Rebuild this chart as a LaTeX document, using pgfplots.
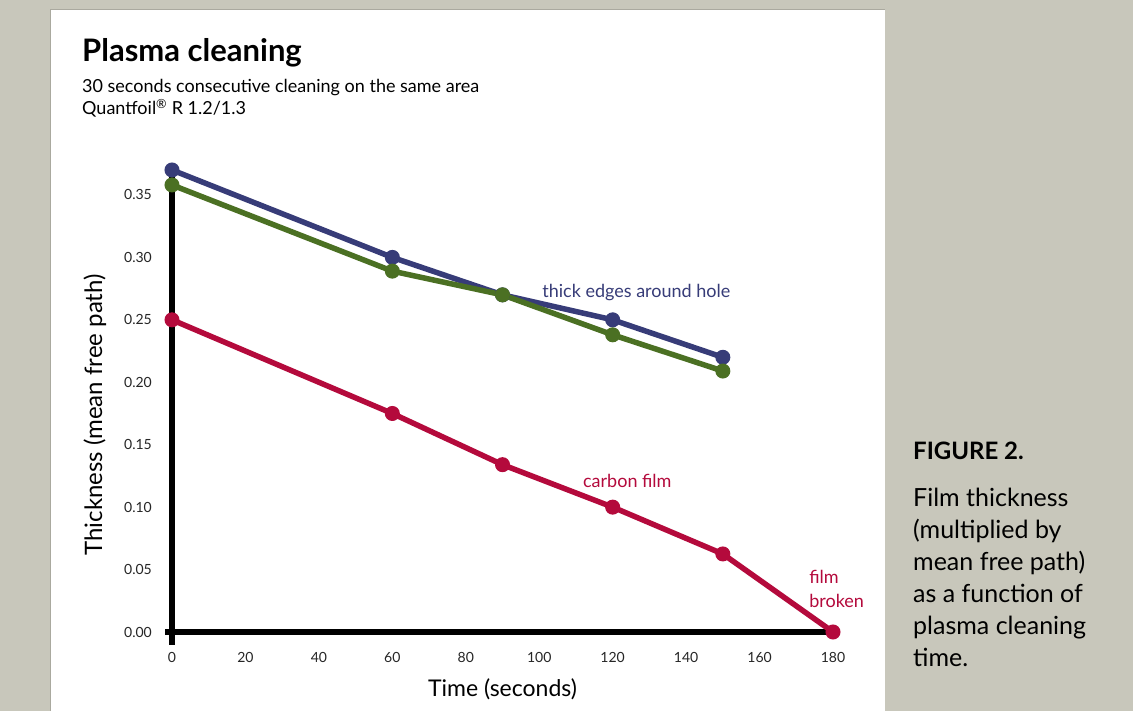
\documentclass[border=0pt]{standalone}
\usepackage{pgfplots}
\pgfplotsset{compat=1.18}
\usepackage{fontspec}
\setmainfont{Lato}
\definecolor{bg}{RGB}{200,199,187}
\definecolor{navy}{RGB}{55,60,120}
\definecolor{olive}{RGB}{75,112,35}
\definecolor{crimson}{RGB}{180,10,60}

\newcommand{\fs}[1]{\fontsize{#1}{#1}\selectfont}

\begin{document}
\begin{tikzpicture}[x=1pt,y=1pt]
\useasboundingbox (0,0) rectangle (1133,711);
% background and white panel
\fill[bg] (0,0) rectangle (1133,711);
\fill[white] (50,0) rectangle (885,701);
\draw[bg!85!black, line width=1pt] (50,0) -- (50,701) -- (885,701);

% titles
\node[anchor=base west, inner sep=0pt] at (82,649) {\fs{31}\bfseries Plasma cleaning};
\node[anchor=base west, inner sep=0pt] at (82,618) {\fs{18}30 seconds consecutive cleaning on the same area};
\node[anchor=base west, inner sep=0pt] at (82,596) {\fs{18}Quantfoil\textsuperscript{®} R 1.2/1.3};

% caption on the right
\node[anchor=base west, inner sep=0pt] at (913,251) {\fs{24}\bfseries FIGURE 2.};
\foreach \t [count=\i from 0] in {{Film thickness},{(multiplied by},{mean free path)},{as a function of},{plasma cleaning},{time.}}
  \node[anchor=base west, inner sep=0pt] at (913,204-32*\i) {\fs{25}\t};

\begin{axis}[
  at={(172pt,79pt)}, anchor=south west,
  scale only axis, width=661pt, height=462pt,
  xmin=0, xmax=180, ymin=0, ymax=0.37,
  clip=false,
  axis x line=bottom, axis y line=left,
  axis line style={-, line width=5.5pt, black},
  x axis line style={shorten <=-7pt},
  y axis line style={shorten <=-13pt},
  xtick={0,20,...,180},
  ytick={0,0.05,0.10,0.15,0.20,0.25,0.30,0.35},
  major tick length=0pt,
  /pgf/number format/assume math mode=true,
  tick label style={font=\fs{14}, inner sep=0pt, text=black!85},
  xticklabel style={anchor=north, yshift=-20pt},
  yticklabel style={anchor=east, xshift=-20pt,
    /pgf/number format/fixed, /pgf/number format/fixed zerofill,
    /pgf/number format/precision=2},
  xlabel={Time (seconds)},
  xlabel style={at={(axis description cs:0.5,0)}, anchor=base, yshift=-65pt, font=\fs{23}, inner sep=0pt},
  ylabel={Thickness (mean free path)},
  ylabel style={at={(axis description cs:0,0.47)}, anchor=base, rotate=0, yshift=70pt, font=\fs{24}, inner sep=0pt},
]
\addplot[crimson, line width=5.5pt, mark=*, mark size=7pt, mark options={line width=1pt}]
  coordinates {(0,0.25)(60,0.175)(90,0.134)(120,0.10)(150,0.0625)(180,0.0)};
\addplot[navy, line width=5.5pt, mark=*, mark size=7pt, mark options={line width=1pt}]
  coordinates {(0,0.37)(60,0.30)(90,0.27)(120,0.25)(150,0.22)};
\addplot[olive, line width=5.5pt, mark=*, mark size=7pt, mark options={line width=1pt}]
  coordinates {(0,0.358)(60,0.289)(90,0.27)(120,0.238)(150,0.209)};

\node[anchor=base west, inner sep=0pt, text=navy, font=\fs{18}] at (axis cs:100.8,0.268) {thick edges around hole};
\node[anchor=base west, inner sep=0pt, text=crimson, font=\fs{18}] at (axis cs:111.9,0.116) {carbon film};
\node[anchor=base west, inner sep=0pt, text=crimson, font=\fs{18}] at (axis cs:173.5,0.039) {film};
\node[anchor=base west, inner sep=0pt, text=crimson, font=\fs{18}] at (axis cs:173.5,0.020) {broken};
\end{axis}
\end{tikzpicture}
\end{document}
